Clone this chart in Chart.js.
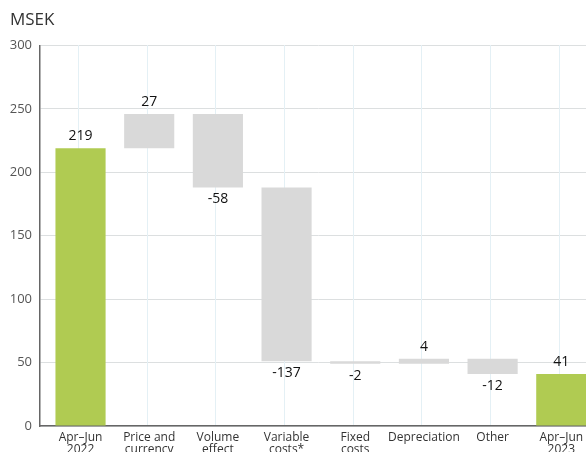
<!DOCTYPE html>
<html>
<head>
<meta charset="utf-8">
<script src="https://cdn.jsdelivr.net/npm/chart.js@4.4.1/dist/chart.umd.min.js"></script>
<style>
  html, body { margin: 0; padding: 0; background: #fff; overflow: hidden; }
  #wrap { width: 600px; height: 462px; }
</style>
</head>
<body>
<div id="wrap"><canvas id="bridge"></canvas></div>
<script>
const categories = [
  ['Apr–Jun', '2022'],
  ['Price and', 'currency'],
  ['Volume', 'effect'],
  ['Variable', 'costs*'],
  ['Fixed', 'costs'],
  'Depreciation',
  'Other',
  ['Apr–Jun', '2023']
];
const changes = [219, 27, -58, -137, -2, 4, -12, 41];
const isTotal = [true, false, false, false, false, false, false, true];
const yTickValues = [0, 50, 100, 150, 200, 250, 300];

const GREEN = '#b0cb52';
const GREY = '#d9d9d9';
const FONT = '"Open Sans", sans-serif';

// floating ranges for the waterfall, one slot per category
let running = 0;
const points = changes.map((v, i) => {
  if (isTotal[i]) {
    running = v;
    return { x: i, y: [0, v] };
  }
  const start = running;
  running += v;
  return { x: i, y: [start, running] };
});

const valueLabels = {
  id: 'valueLabels',
  afterDatasetsDraw(chart) {
    const ctx = chart.ctx;
    const meta = chart.getDatasetMeta(0);
    ctx.save();
    ctx.font = '14px ' + FONT;
    ctx.fillStyle = '#111';
    ctx.textAlign = 'center';
    ctx.textBaseline = 'middle';
    meta.data.forEach((bar, i) => {
      const v = changes[i];
      const top = Math.min(bar.y, bar.base);
      const bottom = Math.max(bar.y, bar.base);
      if (v >= 0) {
        ctx.fillText(String(v), bar.x, top - 12);
      } else {
        ctx.fillText(String(v), bar.x, bottom + 12);
      }
    });
    ctx.restore();
  }
};

function setupBridgeChart() {
  const ctx = document.getElementById('bridge').getContext('2d');
  new Chart(ctx, {
    type: 'bar',
    data: {
      datasets: [{
        data: points,
        backgroundColor: changes.map((v, i) => isTotal[i] ? GREEN : GREY),
        borderWidth: 0,
        barPercentage: 0.73,
        categoryPercentage: 1
      }]
    },
    options: {
      responsive: true,
      maintainAspectRatio: false,
      animation: false,
      layout: { padding: { left: 10, right: 3, top: 0, bottom: 0 } },
      scales: {
        y: {
          min: 0,
          max: 300,
          afterBuildTicks(axis) {
            axis.ticks = yTickValues.map(v => ({ value: v }));
          },
          afterFit(axis) {
            axis.width = 30;
          },
          grid: { color: '#dcdfe0', drawTicks: false },
          border: { color: '#666', width: 1.5 },
          ticks: {
            padding: 8,
            color: '#555',
            font: { family: FONT, size: 13 }
          }
        },
        x: {
          type: 'linear',
          offset: false,
          min: -0.59,
          max: 7.52,
          afterBuildTicks(axis) {
            axis.ticks = categories.map((c, i) => ({ value: i }));
          },
          grid: { display: false, drawTicks: false, offset: false },
          border: { color: '#666', width: 1.5 },
          ticks: {
            padding: 6,
            color: '#333',
            maxRotation: 0,
            autoSkip: false,
            callback: (value) => categories[value],
            font: { family: FONT, size: 12, lineHeight: 1.0 }
          }
        },
        // only carries the light vertical separators between categories
        xSep: {
          type: 'linear',
          position: 'top',
          offset: false,
          min: -0.59,
          max: 7.52,
          afterBuildTicks(axis) {
            axis.ticks = categories.slice(1).map((c, i) => ({ value: i + 0.47 }));
          },
          afterFit(axis) {
            axis.height = 0;
          },
          grid: { color: '#e4f0f5', drawTicks: false },
          border: { display: false },
          ticks: { display: false }
        }
      },
      plugins: {
        legend: { display: false },
        tooltip: { enabled: false },
        title: {
          display: true,
          text: 'MSEK',
          align: 'start',
          color: '#333',
          font: { family: FONT, size: 17, weight: 'normal' },
          padding: { top: 10, bottom: 15 }
        }
      }
    },
    plugins: [valueLabels]
  });
}

document.addEventListener('DOMContentLoaded', () => {
  setupBridgeChart();
});
</script>
</body>
</html>
